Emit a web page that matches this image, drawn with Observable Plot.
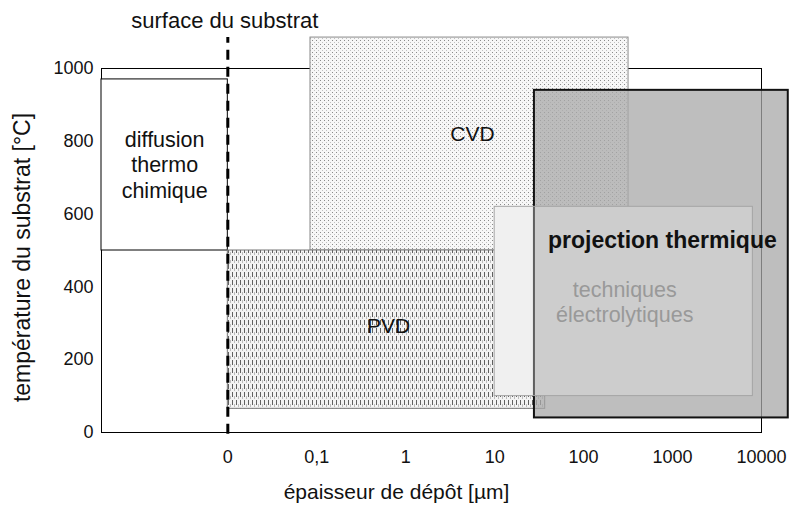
<!DOCTYPE html>
<html><head><meta charset="utf-8">
<script src="https://cdn.jsdelivr.net/npm/d3@7"></script>
<script src="https://cdn.jsdelivr.net/npm/@observablehq/plot@0.6"></script>
<style>body{margin:0;background:#fff}#chart{width:791px;height:506px}</style>
</head><body><div id="chart"></div>
<script>
// Procédés de revêtement : épaisseur (µm) vs température du substrat (°C)
const methods = ["diffusion\nthermo\nchimique", "CVD", "PVD", "techniques\nélectrolytiques", "projection thermique"];
const thicknessMin = [0.00038, 0.085, 0.01, 10, 28];
const thicknessMax = [0.01, 320, 37, 8000, 20000];
const tempMin = [500, 500, 65, 100, 40];
const tempMax = [970, 1085, 500, 620, 940];
const xTicks = [0.01, 0.1, 1, 10, 100, 1000, 10000];
const xTickLabels = ["0", "0,1", "1", "10", "100", "1000", "10000"];
const yTicks = [0, 200, 400, 600, 800, 1000];
const substrateSurface = 0.01; // "0" = surface du substrat
const xDomain = [0.00038, 10000];
const yDomain = [0, 1000];

const rows = methods.map((m, i) => ({method: m, x1: thicknessMin[i], x2: thicknessMax[i], y1: tempMin[i], y2: tempMax[i]}));
const cx = d => Math.sqrt(d.x1 * d.x2);
const cy = d => (d.y1 + d.y2) / 2;
const font = "'Liberation Sans', Arial, sans-serif";

const plot = Plot.plot({
  width: 791, height: 506,
  marginLeft: 101, marginRight: 30, marginTop: 68, marginBottom: 74,
  style: {fontFamily: font, fontSize: "18px", color: "#111", background: "white", overflow: "visible"},
  x: {type: "log", domain: xDomain, ticks: xTicks, tickSize: 0, tickPadding: 18, label: null,
      tickFormat: d => { const k = xTicks.findIndex(t => Math.abs(Math.log10(t) - Math.log10(d)) < 1e-6); return k < 0 ? "" : xTickLabels[k]; }},
  y: {domain: yDomain, ticks: yTicks, tickSize: 0, tickPadding: 8, label: null, tickFormat: d => String(d)},
  marks: [
    Plot.frame({stroke: "#000", strokeWidth: 1}),
    // diffusion thermochimique
    Plot.rect([rows[0]], {x1: "x1", x2: "x2", y1: "y1", y2: "y2", fill: "white", stroke: "#000", strokeWidth: 1}),
    // CVD
    Plot.rect([rows[1]], {x1: "x1", x2: "x2", y1: "y1", y2: "y2", fill: "url(#patCVD)", stroke: "#8a8a8a", strokeWidth: 1}),
    // PVD
    Plot.rect([rows[2]], {x1: "x1", x2: "x2", y1: "y1", y2: "y2", fill: "url(#patPVD)", stroke: "#777", strokeWidth: 1}),
    // techniques électrolytiques (couche opaque)
    Plot.rect([rows[3]], {x1: "x1", x2: "x2", y1: "y1", y2: "y2", fill: "#f0f0f0"}),
    // projection thermique
    Plot.rect([rows[4]], {x1: "x1", x2: "x2", y1: "y1", y2: "y2", fill: "#a8a8a8", fillOpacity: 0.75, stroke: "#111", strokeWidth: 2}),
    // techniques électrolytiques (voile clair)
    Plot.rect([rows[3]], {x1: "x1", x2: "x2", y1: "y1", y2: "y2", fill: "#f0f0f0", fillOpacity: 0.35, stroke: "#a5a5a5", strokeWidth: 1}),
    // surface du substrat
    Plot.ruleX([substrateSurface], {y1: () => -5, y2: () => tempMax[1], stroke: "#000", strokeWidth: 3, strokeDasharray: "10,7"}),
    Plot.text(["surface du substrat"], {text: d => d, x: () => substrateSurface, frameAnchor: "top", lineAnchor: "middle", dx: -3, dy: -48, fontSize: 22, fill: "#111"}),
    // labels
    Plot.text([rows[0]], {x: cx, y: cy, text: "method", dy: -1, fontSize: 21.5, lineHeight: 1.19, fill: "#111"}),
    Plot.text([rows[1]], {x: cx, y: cy, text: "method", dx: 3, dy: -10, fontSize: 21, fill: "#111"}),
    Plot.text([rows[2]], {x: cx, y: cy, text: "method", dx: 2, dy: -3, fontSize: 21, fill: "#111"}),
    Plot.text([rows[3]], {x: cx, y: cy, text: "method", dx: 1, dy: 0, fontSize: 21.5, lineHeight: 1.19, fill: "#999"}),
    Plot.text([rows[4]], {x: cx, y: cy, text: "method", dx: 1, dy: -14, fontSize: 23, fontWeight: "bold", fill: "#111"}),
    // axis titles
    Plot.text(["épaisseur de dépôt [µm]"], {text: d => d, frameAnchor: "bottom", textAnchor: "middle", lineAnchor: "middle", dx: -35, dy: 60, fontSize: 21, fill: "#111"}),
    Plot.text(["température du substrat [°C]"], {text: d => d, frameAnchor: "left", textAnchor: "middle", lineAnchor: "middle", rotate: -90, dx: -79, dy: 7, fontSize: 23, fill: "#111"})
  ]
});

const ns = "http://www.w3.org/2000/svg";
const defs = document.createElementNS(ns, "defs");
defs.innerHTML =
  '<pattern id="patCVD" patternUnits="userSpaceOnUse" width="4" height="4">' +
    '<rect width="4" height="4" fill="#f7f7f7"/>' +
    '<rect x="0" y="0" width="1" height="1" fill="#8a8a8a"/>' +
    '<rect x="2" y="2" width="1" height="1" fill="#c0c0c0"/>' +
  '</pattern>' +
  '<pattern id="patPVD" patternUnits="userSpaceOnUse" width="4" height="8">' +
    '<rect width="4" height="8" fill="#f3f3f3"/>' +
    '<rect x="0" y="0" width="1" height="5" fill="#606060"/>' +
    '<rect x="2" y="4" width="1" height="3" fill="#bdbdbd"/>' +
  '</pattern>';
plot.insertBefore(defs, plot.firstChild);
document.getElementById("chart").appendChild(plot);
</script>
</body></html>
